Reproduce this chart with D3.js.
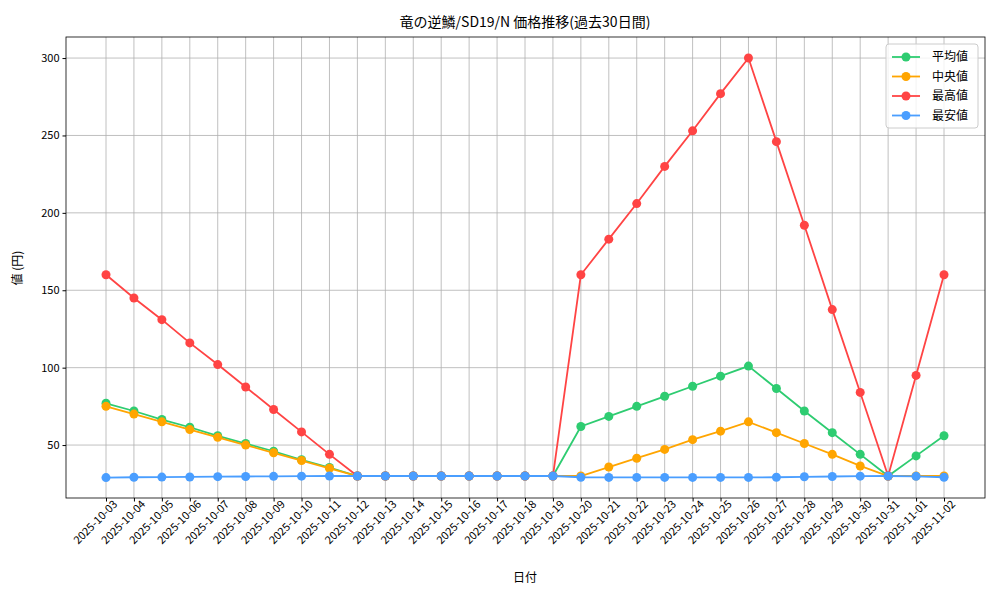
<!DOCTYPE html>
<html><head><meta charset="utf-8">
<script src="https://cdn.jsdelivr.net/npm/d3@7"></script>
<style>body{margin:0;background:#fff}text{font-family:"Noto Sans CJK JP",sans-serif}</style>
</head><body><svg id="c" width="1000" height="600"></svg>
<script>
const dates=["2025-10-03","2025-10-04","2025-10-05","2025-10-06","2025-10-07","2025-10-08","2025-10-09","2025-10-10","2025-10-11","2025-10-12","2025-10-13","2025-10-14","2025-10-15","2025-10-16","2025-10-17","2025-10-18","2025-10-19","2025-10-20","2025-10-21","2025-10-22","2025-10-23","2025-10-24","2025-10-25","2025-10-26","2025-10-27","2025-10-28","2025-10-29","2025-10-30","2025-10-31","2025-11-01","2025-11-02"];
const meanVals=[77,72,66.5,61.5,56,51,46,40.5,35.5,30,30,30,30,30,30,30,30,62,68.5,75,81.5,88,94.5,101,86.5,72,58,44,30,43,56];
const medianVals=[75,70,65,60,55,50,45,40,35,30,30,30,30,30,30,30,30,30,35.8,41.5,47.2,53.5,59,65,58,51,44,36.5,30,30,30];
const maxVals=[160,145,131,116,102,87.5,73,58.5,44,30,30,30,30,30,30,30,30,160,183,206,230,253,277,300,246,192,137.5,84,30,95,160];
const minVals=[29,29.2,29.3,29.4,29.6,29.7,29.8,29.9,30,30,30,30,30,30,30,30,30,29.2,29.1,29.1,29.1,29.1,29.1,29.1,29.2,29.5,29.7,29.9,30,29.8,29.2];
const yTicks=[50,100,150,200,250,300];
const series=[["平均値",meanVals,"#2ecc71"],["中央値",medianVals,"#ffa500"],["最高値",maxVals,"#ff4444"],["最安値",minVals,"#4a9eff"]];
const L=66,R=985,T=37,B=498;
const svg=d3.select("#c");
const x=d3.scalePoint().domain(dates).range([106,944]);
const y=d3.scaleLinear().domain([15.8,313.6]).range([B,T]);
const g=svg.append("g");
g.selectAll(".gx").data(dates).join("line").attr("x1",d=>x(d)).attr("x2",d=>x(d)).attr("y1",T).attr("y2",B).attr("stroke","#b0b0b0").attr("stroke-width",0.8);
g.selectAll(".gy").data(yTicks).join("line").attr("x1",L).attr("x2",R).attr("y1",d=>y(d)).attr("y2",d=>y(d)).attr("stroke","#b0b0b0").attr("stroke-width",0.8);
const xa=svg.append("g").attr("transform",`translate(0,${B})`).call(d3.axisBottom(x).tickSizeOuter(0).tickSize(3.5));
xa.select(".domain").remove();
xa.selectAll("text").attr("font-size",11).attr("fill","#000").attr("text-anchor","end").attr("dx","0.3em").attr("dy","0.6em").attr("transform",d=>"rotate(-45)");
const ya=svg.append("g").attr("transform",`translate(${L},0)`).call(d3.axisLeft(y).tickValues(yTicks).tickSize(3.5));
ya.select(".domain").remove();
ya.selectAll("text").attr("font-size",11).attr("fill","#000");
svg.append("rect").attr("x",L).attr("y",T).attr("width",R-L).attr("height",B-T).attr("fill","none").attr("stroke","#000").attr("stroke-width",0.8);
const line=d3.line().x((d,i)=>x(dates[i])).y(d=>y(d));
series.forEach(([n,v,c])=>{
  svg.append("path").attr("d",line(v)).attr("fill","none").attr("stroke",c).attr("stroke-width",1.8);
  svg.append("g").selectAll("circle").data(v).join("circle").attr("cx",(d,i)=>x(dates[i])).attr("cy",d=>y(d)).attr("r",4.5).attr("fill",c);
});
svg.append("text").attr("x",525).attr("y",27).attr("text-anchor","middle").attr("font-size",14).text("竜の逆鱗/SD19/N 価格推移(過去30日間)");
svg.append("text").attr("x",525).attr("y",582).attr("text-anchor","middle").attr("font-size",12).text("日付");
svg.append("text").attr("transform","translate(22,268) rotate(-90)").attr("text-anchor","middle").attr("font-size",12).text("値 (円)");
const lg=svg.append("g").attr("transform","translate(886,44)");
lg.append("rect").attr("width",92).attr("height",84).attr("rx",3).attr("fill","#fff").attr("fill-opacity",0.8).attr("stroke","#ccc");
series.forEach(([n,v,c],i)=>{
  const yy=13+i*19.5;
  lg.append("line").attr("x1",6).attr("x2",34).attr("y1",yy).attr("y2",yy).attr("stroke",c).attr("stroke-width",1.8);
  lg.append("circle").attr("cx",20).attr("cy",yy).attr("r",4.5).attr("fill",c);
  lg.append("text").attr("x",46).attr("y",yy+4).attr("font-size",12).text(n);
});
</script></body></html>
